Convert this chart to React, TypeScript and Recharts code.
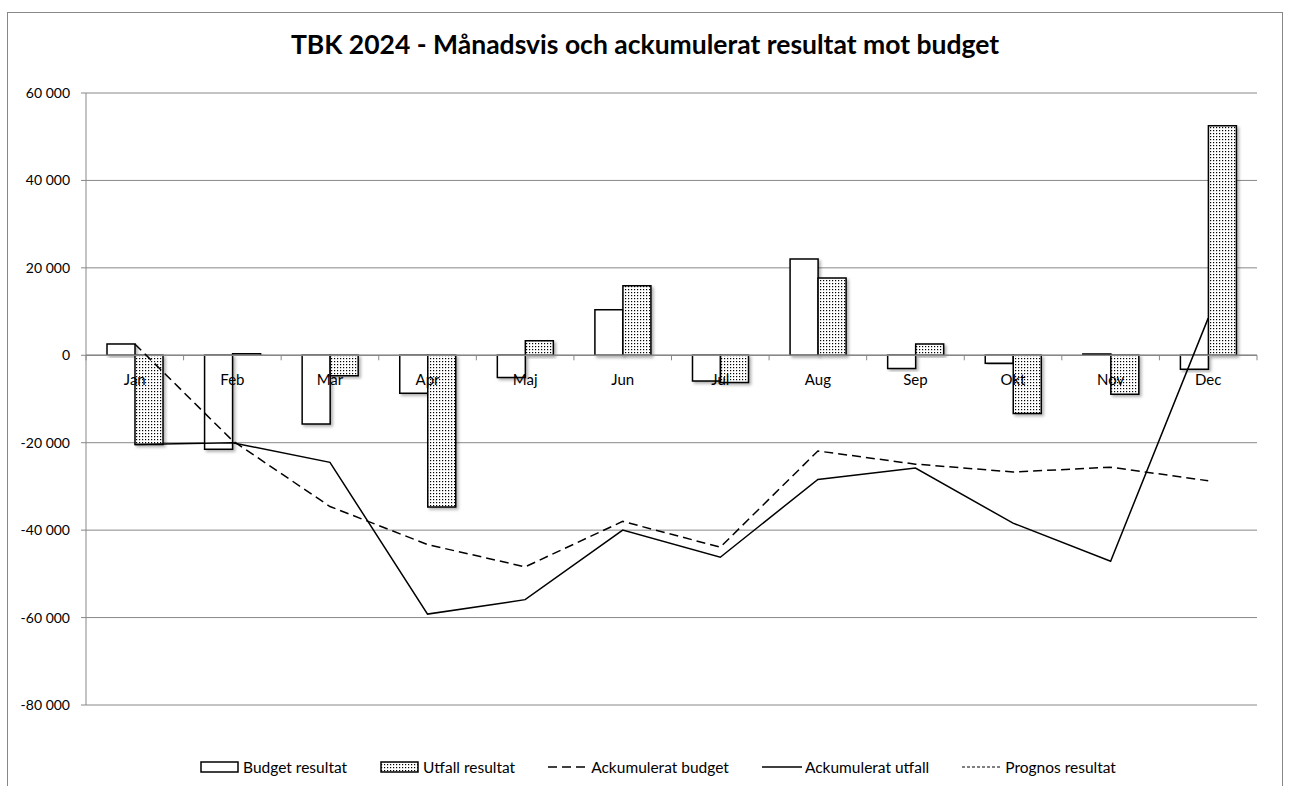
import React from 'react';
import { ComposedChart, Bar, Line, XAxis, YAxis, CartesianGrid, ReferenceLine } from 'recharts';

const months = ['Jan', 'Feb', 'Mar', 'Apr', 'Maj', 'Jun', 'Jul', 'Aug', 'Sep', 'Okt', 'Nov', 'Dec'];
const budgetResultat = [2600, -21500, -15700, -8700, -5100, 10400, -5900, 22000, -3000, -1800, 300, -3200];
const utfallResultat = [-20400, 400, -4700, -34700, 3300, 15900, -6200, 17700, 2600, -13300, -8900, 52500];
const ackumuleratBudget = [2600, -19500, -34600, -43300, -48400, -38000, -43900, -21900, -24900, -26700, -25600, -28700];
const ackumuleratUtfall = [-20400, -20000, -24500, -59200, -55900, -40000, -46200, -28400, -25800, -38400, -47100, 8500];
const prognosResultat: (number | null)[] = [null, null, null, null, null, null, null, null, null, null, null, null];
const yTicks = [-80000, -60000, -40000, -20000, 0, 20000, 40000, 60000];

const data = months.map((m, i) => ({
  month: m,
  budget: budgetResultat[i],
  utfall: utfallResultat[i],
  ackBudget: ackumuleratBudget[i],
  ackUtfall: ackumuleratUtfall[i],
  prognos: prognosResultat[i],
}));

const FONT = 'Lato, "Open Sans", sans-serif';
const W = 1290;
const H = 786;
const PLOT_TOP = 93;
const PLOT_BOTTOM = 705;
const PLOT_LEFT = 86;
const PLOT_RIGHT = 1257;
const Y_AXIS_W = 80;
const X_AXIS_H = 30;
const Y_MIN = -80000;
const Y_MAX = 60000;
const ZERO_Y = PLOT_TOP + ((PLOT_BOTTOM - PLOT_TOP) * Y_MAX) / (Y_MAX - Y_MIN);
const BAND = (PLOT_RIGHT - PLOT_LEFT) / months.length;

const fmt = (v: number) => {
  const s = Math.abs(v).toString().replace(/\B(?=(\d{3})+(?!\d))/g, ' ');
  return (v < 0 ? '-' : '') + s;
};

// month labels sit under the zero line, ticks between categories
const MonthTick = (props: any) => {
  const { x, payload, index } = props;
  return (
    <g>
      <line x1={x - BAND / 2} x2={x - BAND / 2} y1={ZERO_Y} y2={ZERO_Y + 5} stroke="#888" />
      {index === months.length - 1 && (
        <line x1={x + BAND / 2} x2={x + BAND / 2} y1={ZERO_Y} y2={ZERO_Y + 5} stroke="#888" />
      )}
      <text x={x} y={ZERO_Y + 30} textAnchor="middle" fontSize={15} fontFamily={FONT} fill="#000">
        {payload.value}
      </text>
    </g>
  );
};

const legendItems = [
  { label: 'Budget resultat', kind: 'budget' },
  { label: 'Utfall resultat', kind: 'utfall' },
  { label: 'Ackumulerat budget', kind: 'dash' },
  { label: 'Ackumulerat utfall', kind: 'solid' },
  { label: 'Prognos resultat', kind: 'dot' },
];

const LegendRow = () => (
  <div
    style={{
      position: 'absolute',
      left: 13,
      top: 758,
      width: W,
      display: 'flex',
      justifyContent: 'center',
      gap: 33,
      fontFamily: FONT,
      fontSize: 15.5,
      color: '#000',
    }}
  >
    {legendItems.map((it) => (
      <div key={it.label} style={{ display: 'flex', alignItems: 'center', gap: 3 }}>
        <svg width={40} height={14}>
          {it.kind === 'budget' && <rect x={1} y={2} width={37} height={10} fill="#fff" stroke="#000" strokeWidth={1.5} />}
          {it.kind === 'utfall' && <rect x={1} y={2} width={37} height={10} fill="url(#dots)" stroke="#000" strokeWidth={1.5} />}
          {it.kind === 'dash' && <line x1={0} x2={40} y1={7} y2={7} stroke="#000" strokeWidth={1.5} strokeDasharray="9 5" />}
          {it.kind === 'solid' && <line x1={0} x2={40} y1={7} y2={7} stroke="#000" strokeWidth={1.5} />}
          {it.kind === 'dot' && <line x1={0} x2={40} y1={7} y2={7} stroke="#000" strokeWidth={1.2} strokeDasharray="3 2" />}
        </svg>
        <span>{it.label}</span>
      </div>
    ))}
  </div>
);

export default function App() {
  return (
    <div style={{ position: 'absolute', left: 0, top: 0, width: W, height: H, overflow: 'hidden', background: '#fff' }}>
      <div style={{ position: 'absolute', left: 7, top: 12, width: 1276, height: 800, border: '1.5px solid #888', boxSizing: 'border-box' }} />
      <div style={{ position: 'absolute', left: 0, top: 28, width: W, textAlign: 'center', fontFamily: FONT, fontWeight: 700, fontSize: 26.5, color: '#000' }}>
        TBK 2024 - Månadsvis och ackumulerat resultat mot budget
      </div>
      <div style={{ position: 'absolute', left: 0, top: 0 }}>
        <ComposedChart
          width={W}
          height={H}
          data={data}
          margin={{ top: PLOT_TOP, right: W - PLOT_RIGHT, bottom: H - PLOT_BOTTOM - X_AXIS_H, left: PLOT_LEFT - Y_AXIS_W }}
          barGap={0}
        >
          <defs>
            <pattern id="dots" width={3} height={3} patternUnits="userSpaceOnUse">
              <rect width={3} height={3} fill="#fff" />
              <rect x={1} y={1} width={1.2} height={1.2} fill="#000" />
            </pattern>
            <filter id="shadow" x="-20%" y="-20%" width="140%" height="140%">
              <feDropShadow dx={2} dy={2} stdDeviation={1.5} floodColor="#000" floodOpacity={0.3} />
            </filter>
          </defs>
          <CartesianGrid horizontal vertical={false} stroke="#888" strokeWidth={1} />
          <XAxis
            dataKey="month"
            height={X_AXIS_H}
            axisLine={false}
            tickLine={false}
            tick={<MonthTick />}
            interval={0}
          />
          <YAxis
            width={Y_AXIS_W}
            domain={[Y_MIN, Y_MAX]}
            ticks={yTicks}
            tickFormatter={fmt}
            axisLine={{ stroke: '#888' }}
            tickLine={{ stroke: '#888' }}
            tickSize={5}
            tickMargin={11}
            tick={{ fontSize: 14, fontFamily: FONT, fill: '#000' }}
            interval={0}
          />
          <ReferenceLine y={0} stroke="#888" strokeWidth={1.5} />
          <Bar dataKey="budget" fill="#fff" stroke="#000" strokeWidth={1.5} barSize={28} isAnimationActive={false} style={{ filter: 'url(#shadow)' }} />
          <Bar dataKey="utfall" fill="url(#dots)" stroke="#000" strokeWidth={1.5} barSize={28} isAnimationActive={false} style={{ filter: 'url(#shadow)' }} />
          <Line dataKey="ackBudget" stroke="#000" strokeWidth={1.5} strokeDasharray="9 5" dot={false} activeDot={false} isAnimationActive={false} />
          <Line dataKey="ackUtfall" stroke="#000" strokeWidth={1.5} dot={false} activeDot={false} isAnimationActive={false} />
          <Line dataKey="prognos" stroke="#000" strokeWidth={1.2} strokeDasharray="3 2" dot={false} activeDot={false} connectNulls={false} isAnimationActive={false} />
        </ComposedChart>
      </div>
      <LegendRow />
    </div>
  );
}
